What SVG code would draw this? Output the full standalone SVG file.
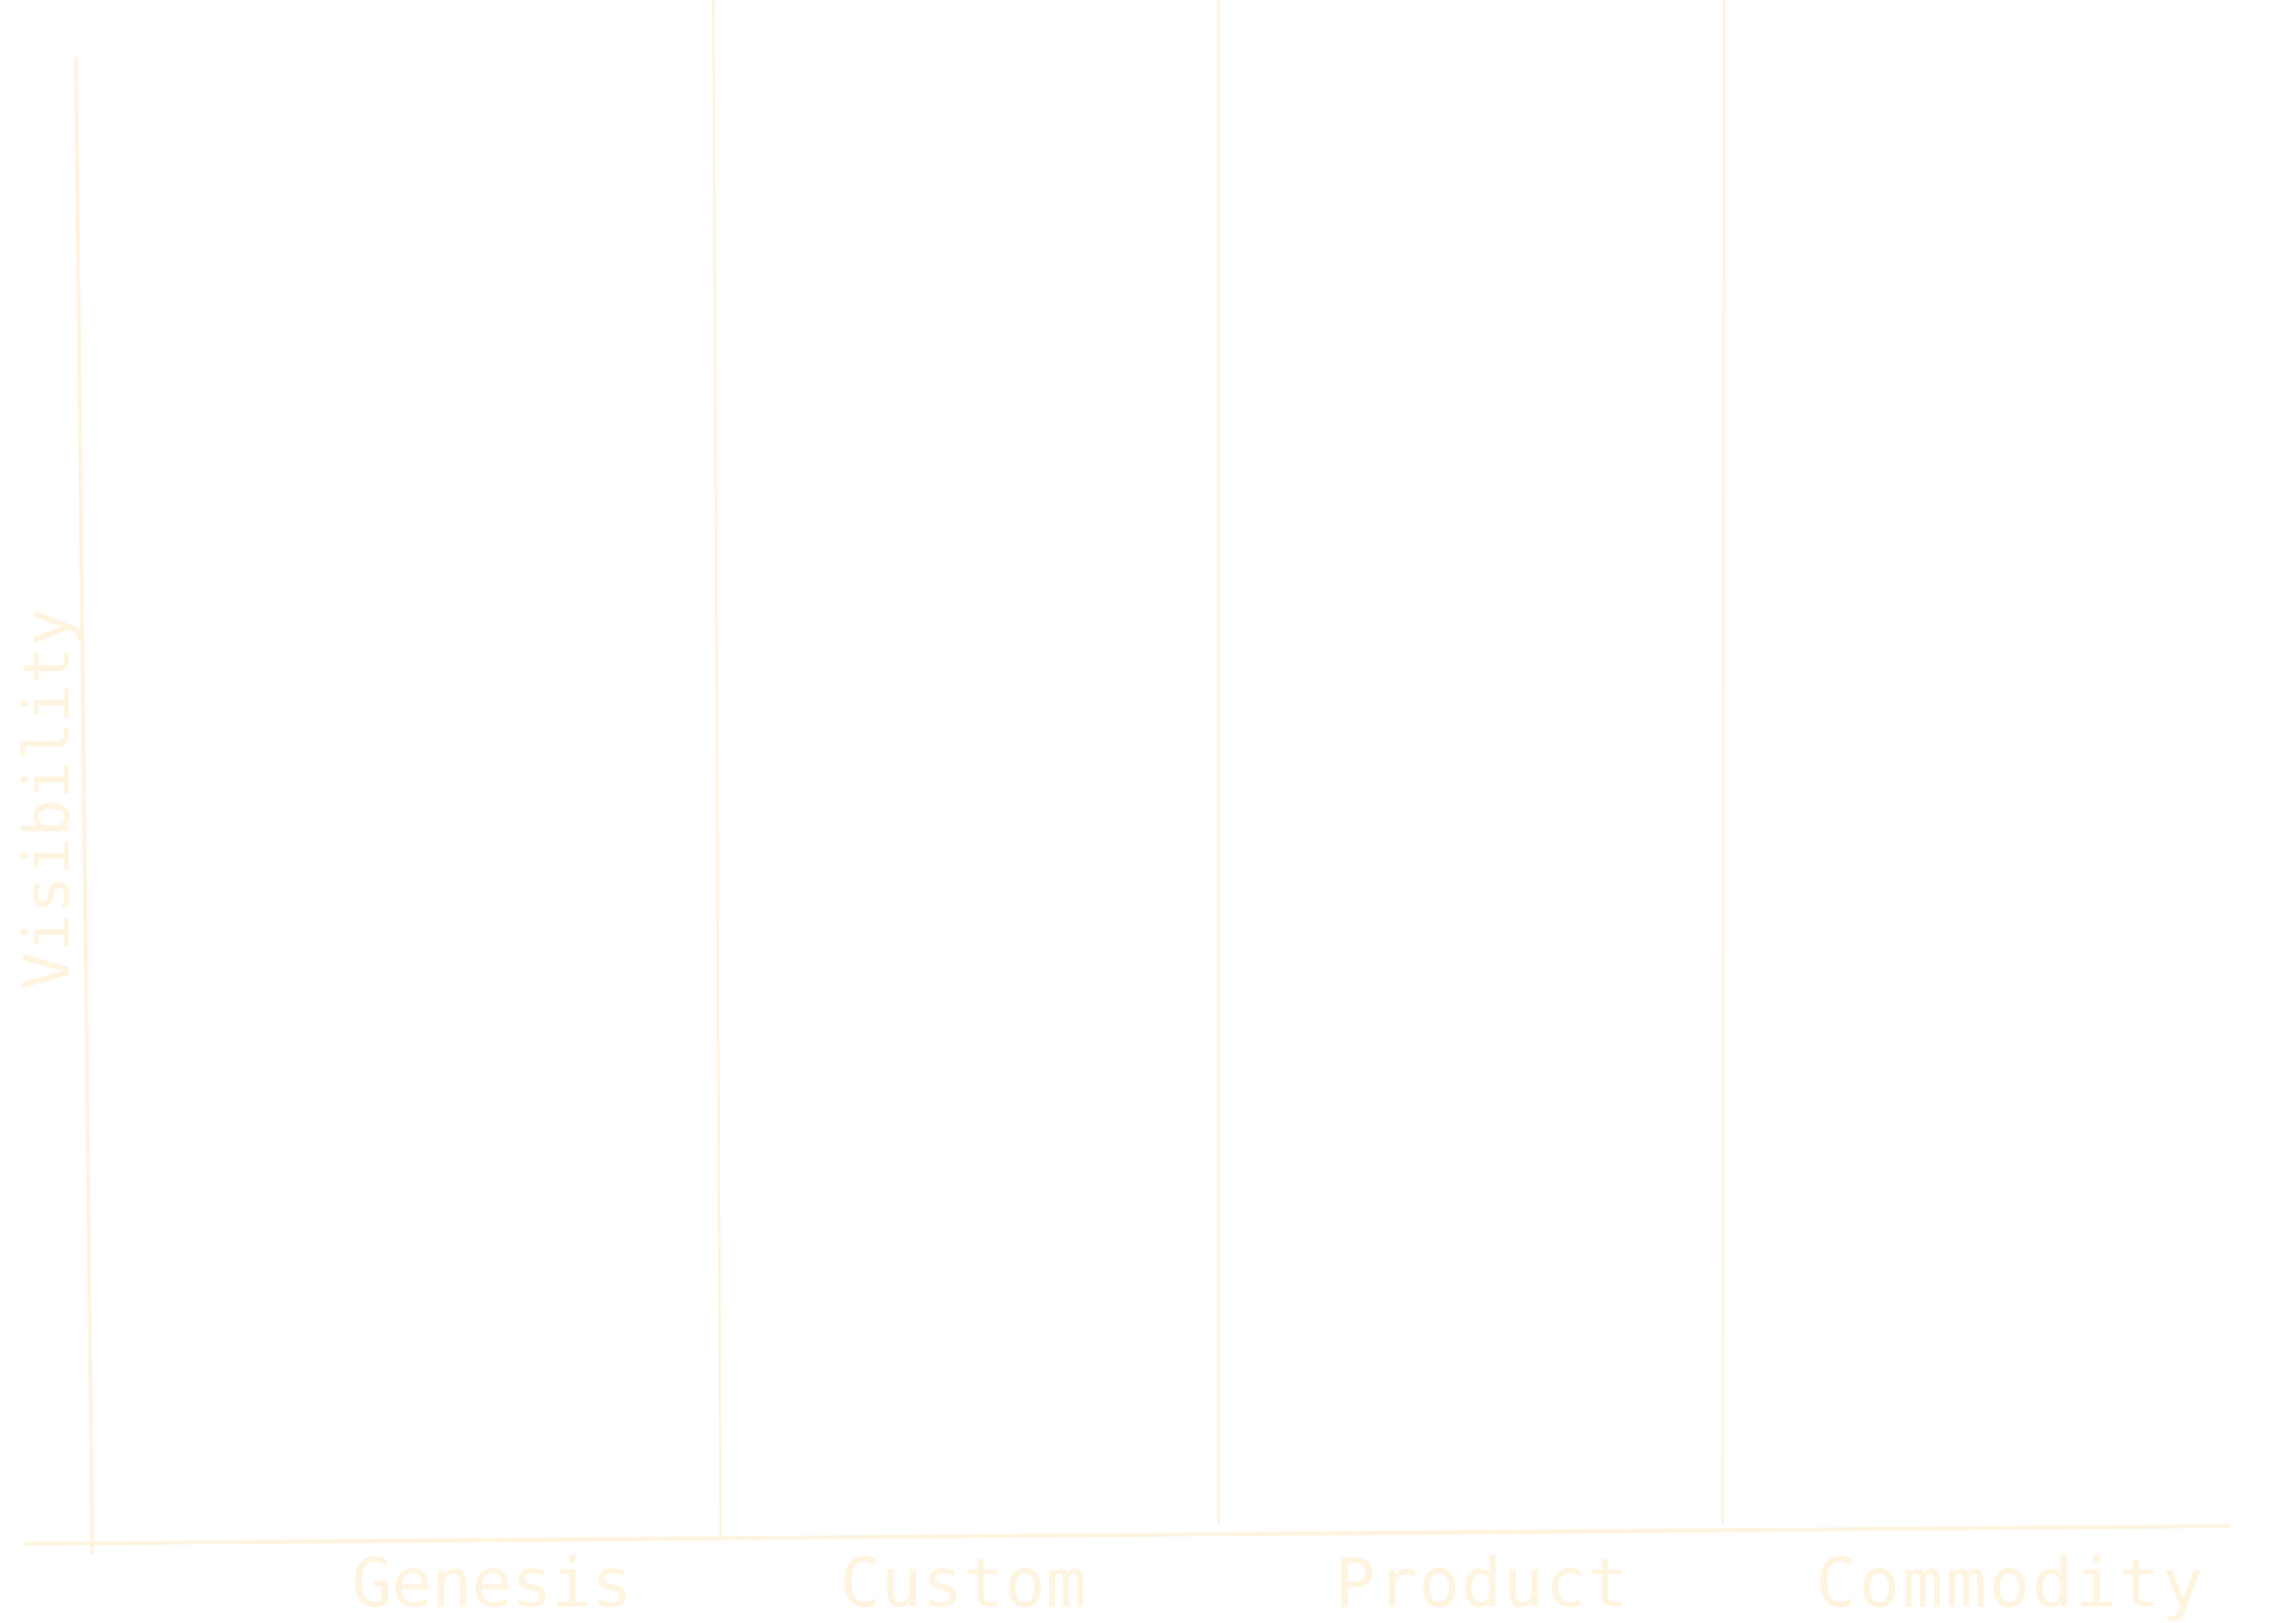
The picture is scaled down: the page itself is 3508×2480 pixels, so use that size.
<svg xmlns="http://www.w3.org/2000/svg" width="3508" height="2480" viewBox="0 0 3508 2480">
<style>
.ln{stroke:#FFF4E0;fill:none;stroke-linecap:round}
.ax{stroke-width:6}
.gd{stroke-width:4}
.lb{font-family:"DejaVu Sans Mono","Liberation Mono",monospace;fill:#FFF4E0;font-size:104px}
.vl{font-size:97px}
</style>
<rect width="3508" height="2480" fill="#FFFFFF"/>
<g id="connectors">
<line class="ln ax" x1="116" y1="90" x2="141" y2="2372"/>
<line class="ln ax" x1="40" y1="2359" x2="3404" y2="2332"/>
<line class="ln gd" x1="1090" y1="0" x2="1101" y2="2350"/>
<line class="ln gd" x1="1862" y1="0" x2="1862" y2="2328"/>
<line class="ln gd" x1="2634" y1="0" x2="2632" y2="2328"/>
</g>
<g id="label-visibility"><text class="lb vl" transform="translate(105,1513) rotate(-90)">Visibility</text></g>
<g id="label-genesis"><text class="lb" x="537" y="2455" textLength="429" lengthAdjust="spacing">Genesis</text></g>
<g id="label-custom"><text class="lb" x="1283" y="2455" textLength="377" lengthAdjust="spacing">Custom</text></g>
<g id="label-product"><text class="lb" x="2039" y="2455" textLength="449" lengthAdjust="spacing">Product</text></g>
<g id="label-commodity"><text class="lb" x="2774" y="2455" textLength="592" lengthAdjust="spacing">Commodity</text></g>
</svg>
